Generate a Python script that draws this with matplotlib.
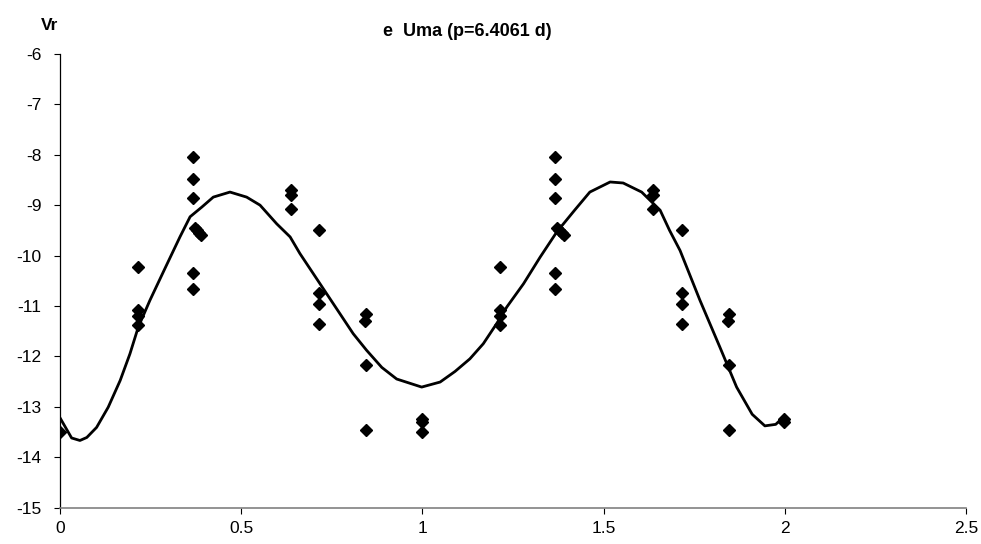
import numpy as np
import matplotlib.pyplot as plt

plt.rcParams['font.family'] = ['Liberation Sans', 'DejaVu Sans']
plt.rcParams['axes.unicode_minus'] = False

# radial velocities folded on orbital phase (one cycle, repeated at +1)
phase = [0.000,
         0.215, 0.215, 0.215, 0.215,
         0.366, 0.366, 0.366, 0.366, 0.366,
         0.372, 0.378, 0.384, 0.390,
         0.637, 0.637, 0.637,
         0.715, 0.715, 0.715, 0.715,
         0.845, 0.842, 0.845, 0.845,
         0.998, 0.998]
vr = [-13.50,
      -10.22, -11.08, -11.20, -11.38,
      -8.05, -8.48, -8.85, -10.35, -10.66,
      -9.45, -9.50, -9.55, -9.60,
      -8.70, -8.80, -9.08,
      -9.50, -10.75, -10.96, -11.35,
      -11.15, -11.30, -12.18, -13.47,
      -13.24, -13.30]

# fitted velocity curve
fit_phase = [0.000, 0.032, 0.055, 0.074, 0.101, 0.133, 0.166, 0.193, 0.216, 0.248,
             0.290, 0.331, 0.359, 0.391, 0.423, 0.469, 0.515, 0.552, 0.598, 0.635,
             0.662, 0.699, 0.736, 0.773, 0.809, 0.846, 0.888, 0.929, 0.998, 1.049,
             1.090, 1.131, 1.168, 1.205, 1.233, 1.279, 1.325, 1.371, 1.420, 1.462,
             1.518, 1.554, 1.605, 1.656, 1.682, 1.711, 1.766, 1.821, 1.867, 1.910,
             1.945, 1.975, 2.000]
fit_vr = [-13.22, -13.62, -13.67, -13.61, -13.41, -13.01, -12.48, -11.95, -11.42, -10.89,
          -10.25, -9.63, -9.23, -9.04, -8.84, -8.74, -8.84, -9.00, -9.37, -9.63,
          -9.96, -10.36, -10.76, -11.16, -11.55, -11.88, -12.22, -12.45, -12.61, -12.51,
          -12.30, -12.05, -11.75, -11.35, -11.02, -10.56, -10.03, -9.53, -9.10, -8.74,
          -8.54, -8.56, -8.74, -9.10, -9.50, -9.90, -10.89, -11.82, -12.61, -13.15,
          -13.38, -13.35, -13.18]

x_ticks = [0, 0.5, 1, 1.5, 2, 2.5]
x_labels = ['0', '0.5', '1', '1.5', '2', '2.5']
y_ticks = list(range(-15, -5))

fig = plt.figure(figsize=(9.81, 5.44), dpi=100)
ax = fig.add_axes([60 / 981, 36.5 / 544, 906 / 981, 453.5 / 544])

ph = np.array(phase)
ax.plot(np.concatenate([ph, ph + 1]), vr + vr, 'D', color='black', ms=5.8,
        linestyle='none', zorder=3)
ax.plot(fit_phase, fit_vr, color='black', lw=2.0, zorder=2)

ax.set_xlim(0, 2.5)
ax.set_ylim(-15, -6)
ax.set_xticks(x_ticks)
ax.set_xticklabels(x_labels)
ax.set_yticks(y_ticks)
ax.tick_params(labelsize=12.5, length=4.3, width=0.8, direction='out', colors='black')
ax.tick_params(axis='x', pad=5.5)
ax.tick_params(axis='y', pad=9)
ax.spines['top'].set_visible(False)
ax.spines['right'].set_visible(False)
ax.spines['left'].set_linewidth(0.9)
ax.spines['bottom'].set_color('#808080')
ax.spines['bottom'].set_linewidth(1.2)

fig.text(467.5 / 981, 1 - 31 / 544, 'e  Uma (p=6.4061 d)', ha='center', va='center',
         fontsize=13, fontweight='bold')
fig.text(50 / 981, 1 - 26 / 544, 'Vr', ha='center', va='center',
         fontsize=12.5, fontweight='bold')

fig.savefig('out.png', dpi=100)
